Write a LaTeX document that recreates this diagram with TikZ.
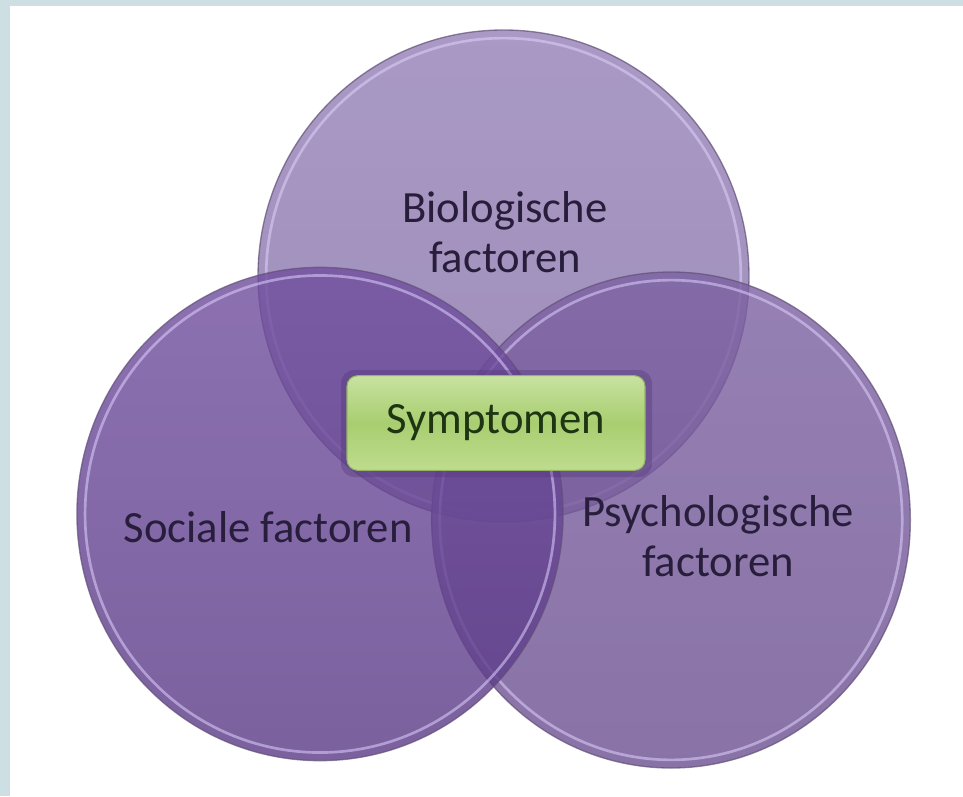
\documentclass[tikz,border=0pt]{standalone}
\usepackage{fontspec}
\setmainfont{Carlito}
\definecolor{frameC}{RGB}{205,223,226}
\definecolor{topA}{RGB}{148,128,182}
\definecolor{topB}{RGB}{134,112,168}
\definecolor{leftA}{RGB}{112,78,158}
\definecolor{leftB}{RGB}{90,58,134}
\definecolor{rightA}{RGB}{124,97,162}
\definecolor{rightB}{RGB}{108,80,144}
\definecolor{rimC}{RGB}{96,80,120}
\definecolor{hiC}{RGB}{222,208,255}
\definecolor{labC}{RGB}{40,30,60}
\definecolor{grTop}{RGB}{200,226,160}
\definecolor{grMid}{RGB}{168,206,112}
\definecolor{grBot}{RGB}{190,220,142}
\definecolor{grEdge}{RGB}{150,180,100}
\definecolor{grText}{RGB}{30,52,18}
\definecolor{shadC}{RGB}{80,50,120}
\tikzset{
  disc/.style={fill opacity=0.8, draw=rimC, line width=1pt, draw opacity=0.7},
  hiring/.style={draw=hiC, line width=2pt, draw opacity=0.55},
  lab/.style={text=labC, align=center, font=\fontsize{33.5}{37}\selectfont, inner sep=0pt},
}
\begin{document}
\begin{tikzpicture}[x=0.75pt,y=-0.75pt]
\useasboundingbox (0,0) rectangle (963,796);
\fill[frameC] (0,0) rectangle (963,796);
\fill[white] (10,6) rectangle (963,796);
% top circle
\coordinate (cT) at (503.5,276);
\coordinate (cR) at (671,520);
\coordinate (cL) at (320,514);
\shade[disc, top color=topA, bottom color=topB] (cT) ellipse [x radius=184.1pt, y radius=184.5pt];
\draw[hiring] (cT) ellipse [x radius=178pt, y radius=178.4pt];
% right circle
\shade[disc, top color=rightA, bottom color=rightB] (cR) ellipse [x radius=179.5pt, y radius=186pt];
\draw[hiring] (cR) ellipse [x radius=173.4pt, y radius=179.9pt];
% left circle
\shade[disc, top color=leftA, bottom color=leftB] (cL) ellipse [x radius=182.3pt, y radius=185pt];
\draw[hiring] (cL) ellipse [x radius=176.2pt, y radius=178.9pt];
% labels
\node[lab] (bio) at (505,232) {Biologische\\factoren};
\node[lab] (soc) at (268,527) {Sociale factoren};
\node[lab] (psy) at (718,536) {Psychologische\\factoren};
% symptomen box
\fill[shadC, opacity=0.35, rounded corners=10pt] (341,370) rectangle (652,477);
\node[draw=grEdge, line width=0.8pt, rounded corners=8pt, top color=grTop, bottom color=grBot, middle color=grMid,
      minimum width=223.5pt, minimum height=71pt, text=grText, font=\fontsize{33.5}{37}\selectfont, inner sep=0pt]
      (sym) at (496,423) {Symptomen};
\end{tikzpicture}
\end{document}
